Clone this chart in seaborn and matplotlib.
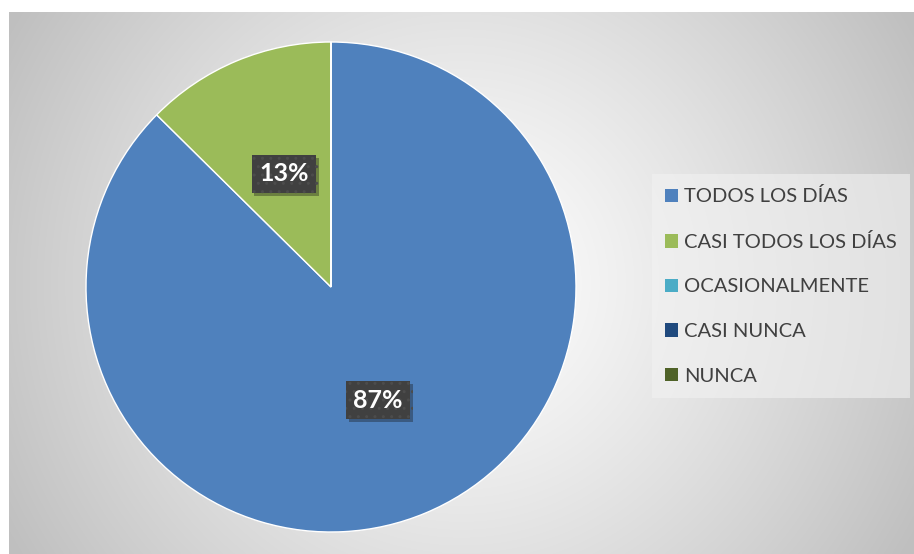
import numpy as np
import matplotlib
matplotlib.use("Agg")
import matplotlib.pyplot as plt
import matplotlib.patheffects as pe
from matplotlib.patches import Patch
import seaborn as sns

categories = ["TODOS LOS DÍAS", "CASI TODOS LOS DÍAS", "OCASIONALMENTE", "CASI NUNCA", "NUNCA"]
values = [87.4, 12.6, 0, 0, 0]
colors = ["#4F81BD", "#9BBB59", "#4BACC6", "#1F497D", "#4F6228"]

sns.set_theme(style="white")
plt.rcParams['font.family'] = ['Lato', 'DejaVu Sans']

W, H = 914, 554
fig = plt.figure(figsize=(W / 100, H / 100), dpi=100)
fig.patch.set_facecolor("white")

# background radial gradient (chart area)
bg = fig.add_axes([9 / W, 0, (W - 9) / W, (H - 12) / H])
bg.set_axis_off()
yy, xx = np.mgrid[0:542, 0:905]
cx, cy = 452, 271
d = np.sqrt((xx - cx) ** 2 + (yy - cy) ** 2) / 520.0
d = np.clip(d, 0, 1)
val = 1.0 - 0.25 * d ** 1.2
img = np.dstack([val, val, val])
bg.imshow(img, aspect="auto", extent=[0, 1, 0, 1], interpolation="bilinear")
bg.set_xlim(0, 1)
bg.set_ylim(0, 1)

# pie
R = 245
pcx, pcy = 331, 287
ax = fig.add_axes([(pcx - R) / W, (H - pcy - R) / H, 2 * R / W, 2 * R / H])
ax.set_axis_off()
wedges, _t, autotexts = ax.pie(
    values, colors=colors, startangle=90, counterclock=False, radius=1,
    autopct=lambda p: f"{p:.0f}%" if p > 0 else "", pctdistance=0.5,
    wedgeprops=dict(edgecolor="white", linewidth=1),
)
ax.set_xlim(-1, 1)
ax.set_ylim(-1, 1)
ax.set_aspect("auto")
for t in autotexts:
    if not t.get_text():
        t.set_visible(False)
        continue
    t.set_color("white")
    t.set_fontsize(18)
    t.set_fontweight("bold")
    t.set_bbox(dict(boxstyle="square,pad=0.3", facecolor="#404040",
                    edgecolor="#4c4c4c", linewidth=0.0, hatch=".."))
    t.get_bbox_patch().set_path_effects(
        [pe.SimplePatchShadow(offset=(2, -2), alpha=0.35), pe.Normal()])

handles = [Patch(facecolor=c, edgecolor="none") for c in colors]
leg = fig.legend(handles, categories, loc="center left",
                 bbox_to_anchor=(652 / W, 1 - 286 / H), borderaxespad=0,
                 frameon=True, fontsize=14.5, labelcolor="#404040",
                 handlelength=0.65, handleheight=0.65, handletextpad=0.3,
                 labelspacing=1.37, borderpad=0.65, fancybox=False)
leg.get_frame().set_facecolor("#f2f2f2")
leg.get_frame().set_alpha(0.6)
leg.get_frame().set_edgecolor("none")

fig.savefig("out.png", dpi=100)
